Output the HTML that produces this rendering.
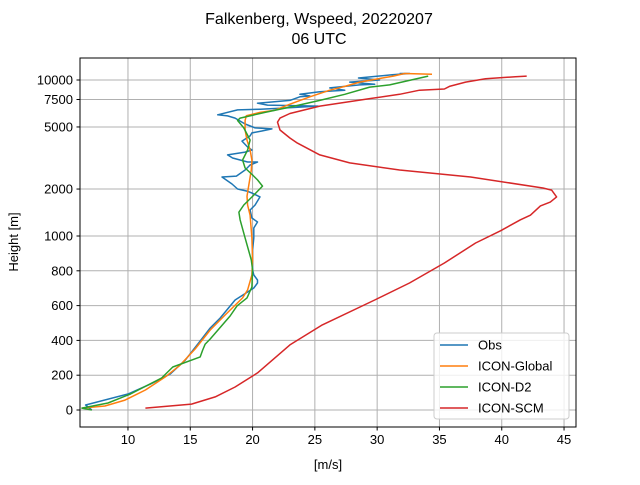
<!DOCTYPE html>
<html><head><meta charset="utf-8"><style>
body{margin:0;background:#fff;}
svg{font-family:"Liberation Sans","DejaVu Sans",sans-serif;}
</style></head><body>
<svg id="chart" width="640" height="480">
<rect width="640" height="480" fill="#fff"/>
<text x="319" y="24" font-size="16" text-anchor="middle">Falkenberg, Wspeed, 20220207</text>
<text x="319" y="44" font-size="16" text-anchor="middle">06 UTC</text>
<g id="grid"></g>
<g id="series"></g>
<rect x="80" y="58" width="496" height="369" fill="none" stroke="#000" stroke-width="1"/>
<g id="ticks"></g>
<text x="328" y="469" font-size="13" text-anchor="middle">[m/s]</text>
<text x="18" y="242" font-size="13" text-anchor="middle" transform="rotate(-90 18 242)">Height [m]</text>
<g id="legend"></g>
</svg>
<script>
const xTicks=[10,15,20,25,30,35,40,45];
const yTicks=[0,200,400,600,800,1000,2000,5000,7500,10000];
const seriesNames=["Obs","ICON-Global","ICON-D2","ICON-SCM"];
const seriesColors=["#1f77b4","#ff7f0e","#2ca02c","#d62728"];
const obsSpeed=[7.1,6.6,10,11.8,13.4,14.6,15.8,16.6,17.4,18.6,19.6,20.1,20.4,20.4,20.1,20.0,20.0,20.1,20.1,20.4,19.95,19.8,20.2,20.6,19.95,19.55,18.8,18.35,17.55,18.7,19.4,19.8,20.4,19.6,18.4,18.0,19.4,19.95,19.6,19.15,19.8,19.95,20.75,21.55,20.2,19.4,18.6,18.0,17.2,18.8,20.6,22.2,25.25,21.2,20.4,23,23.8,24.6,23.8,25.4,27.4,26.2,28.6,29.8,27.8,30.2,28.5,31.2,32.6,31.8];
const obsHeight=[0,29,92,149,207,287,397,471,529,632,678,701,730,747,776,805,920,989,1126,1229,1304,1468,1580,1780,1886,1940,2000,2155,2390,2420,2650,2850,2980,2980,3160,3310,3450,3560,3720,4060,4380,4580,4710,4860,4930,5220,5700,5890,5980,6430,6500,6600,6800,6900,7100,7400,7800,7900,8100,8400,8600,8900,9300,9400,9700,10000,10300,10800,11000,11000];
const globSpeed=[6.3,8.15,9.76,11.4,13.0,14.2,15.4,16.6,17.8,19.2,19.6,19.95,20.0,19.95,19.8,19.6,19.55,19.7,19.9,19.95,19.8,19.55,19.4,19.4,19.5,20.6,21.8,23,24.6,26.2,27.4,28.6,30.1,31.3,32.2,34.4];
const globHeight=[11,23,57,115,190,259,351,460,546,644,690,776,862,989,1360,1580,1800,2120,2650,3070,3560,4120,4780,5500,5900,6200,6400,7000,7800,8600,9100,9700,10200,10600,11000,10900];
const d2Speed=[7.1,6.3,8.4,10.2,12.7,13.6,15.8,16.0,16.2,16.6,18.2,18.75,19.55,19.95,20.0,19.9,19.4,19.0,18.9,19.3,20.1,20.8,20.4,20.0,19.4,19.2,19.6,19.8,19.3,18.8,19.0,21.0,23,25.4,27.4,29.4,31.0,34.1];
const d2Height=[0,11,40,92,184,247,305,345,379,408,540,598,644,707,805,862,989,1270,1420,1580,1830,2090,2290,2460,2730,3070,3560,4120,4930,5500,5700,6200,6700,7400,8100,9000,9300,10600];
const scmSpeed=[11.4,15.1,17.0,18.6,20.4,23.0,25.6,29.8,32.6,35.4,37.9,39.9,41.5,42.3,43.1,43.9,44.4,44.0,43.3,37.5,31.8,27.8,25.4,23.6,23.0,22.2,22.0,22.2,23.0,25.4,29.4,31.8,33.4,35.4,35.8,37.1,38.7,41.1,42.0];
const scmHeight=[11,34,75,132,213,374,489,632,730,845,960,1080,1270,1360,1560,1650,1780,1970,2030,2390,2650,2940,3310,3940,4250,4780,5370,5700,6100,6800,7600,8100,8600,8750,9100,9700,10200,10500,10600];

const NS="http://www.w3.org/2000/svg";
const X0=80,X1=576,XMIN=6.15,XMAX=45.96;
function xs(v){return X0+(v-XMIN)/(XMAX-XMIN)*(X1-X0);}
function ys(h){return h<=1000?410-h*0.174:236-156*Math.log10(h/1000);}
function mk(tag,attrs,parent){const e=document.createElementNS(NS,tag);for(const k in attrs)e.setAttribute(k,attrs[k]);parent.appendChild(e);return e;}
const grid=document.getElementById('grid'),ticks=document.getElementById('ticks');
xTicks.forEach(t=>{const x=xs(t);
 const g=mk('line',{x1:x,x2:x,y1:58,y2:427,stroke:'#b0b0b0','stroke-width':1},grid);
 
 
 mk('line',{x1:x,x2:x,y1:427,y2:430.5,stroke:'#000'},ticks);
 const l=mk('text',{x:x,y:444,'font-size':13,'text-anchor':'middle'},ticks);l.textContent=t;
 
 
});
yTicks.forEach(t=>{const y=ys(t);
 const g=mk('line',{x1:80,x2:576,y1:y,y2:y,stroke:'#b0b0b0','stroke-width':1},grid);
 
 
 mk('line',{x1:76.5,x2:80,y1:y,y2:y,stroke:'#000'},ticks);
 const l=mk('text',{x:73,y:y+4.5,'font-size':13,'text-anchor':'end'},ticks);l.textContent=t;
 
 
});
const ser=document.getElementById('series');
const data=[[obsSpeed,obsHeight],[globSpeed,globHeight],[d2Speed,d2Height],[scmSpeed,scmHeight]];
data.forEach((d,i)=>{
 const pts=d[0].map((s,j)=>xs(s).toFixed(1)+','+ys(d[1][j]).toFixed(1)).join(' ');
 const p=mk('polyline',{points:pts,fill:'none',stroke:seriesColors[i],'stroke-width':1.5,'stroke-linejoin':'round'},ser);
 
 
});
const lg=document.getElementById('legend');
mk('rect',{x:434,y:333,width:135,height:86,rx:3,fill:'#fff','fill-opacity':0.8,stroke:'#ccc'},lg);
seriesNames.forEach((n,i)=>{const y=345+i*21;
 mk('line',{x1:440,x2:468,y1:y,y2:y,stroke:seriesColors[i],'stroke-width':1.5},lg);
 const t=mk('text',{x:478,y:y+4.5,'font-size':13},lg);t.textContent=n;
 
 
});
</script>
</body></html>
